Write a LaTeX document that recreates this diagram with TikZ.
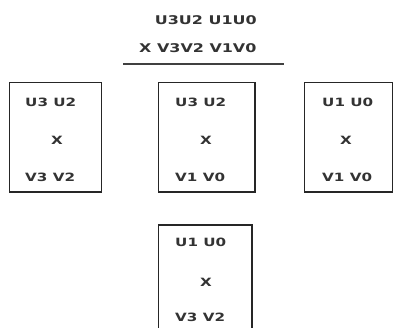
\documentclass[tikz,border=0pt]{standalone}
\usepackage{fontspec}
\setmainfont{DejaVu Sans}
\usepackage{graphicx}
\newcommand\sx[1]{\scalebox{1.33}[1]{#1}}
\begin{document}
\begin{tikzpicture}[x=1pt,y=-1pt,
  box/.style={draw=black!85, line width=1.2pt, inner sep=0pt, outer sep=0pt, minimum width=92pt, minimum height=109.5pt, anchor=north west},
  lbl/.style={inner sep=0pt, text=black!80, font=\fontsize{11.4}{13}\selectfont\bfseries},
  ttl/.style={inner sep=0pt, text=black!80, font=\fontsize{12}{14}\selectfont\bfseries},
  rule/.style={draw=black!75, line width=1.2pt}
  ]
\clip (0,0) rectangle (395,328);
% title
\node[ttl] (h1) at (205.8,20) {\sx{U3U2 U1U0}};
\node[ttl] (h2) at (197.8,48) {\sx{X V3V2 V1V0}};
\coordinate (r1) at (123,64);
\coordinate (r2) at (284,64);
\draw[rule] (r1) -- (r2);
% boxes
\node[box] (b1) at (9.7,82.5) {};
\node[box, minimum width=96.7pt] (b2) at (158.3,82.5) {};
\node[box, minimum width=88.2pt] (b3) at (304.3,82.5) {};
\node[box, minimum width=93.7pt, minimum height=115pt] (b4) at (158.3,225) {};
% box 1
\node[lbl, anchor=west] (b1u) at (25,102) {\sx{U3 U2}};
\node[lbl] (b1x) at (57,140) {\sx{X}};
\node[lbl, anchor=west] (b1v) at (25,177) {\sx{V3 V2}};
% box 2
\node[lbl, anchor=west] (b2u) at (175,102) {\sx{U3 U2}};
\node[lbl] (b2x) at (206,140) {\sx{X}};
\node[lbl, anchor=west] (b2v) at (175,177) {\sx{V1 V0}};
% box 3
\node[lbl, anchor=west] (b3u) at (322,102) {\sx{U1 U0}};
\node[lbl] (b3x) at (346,140) {\sx{X}};
\node[lbl, anchor=west] (b3v) at (322,177) {\sx{V1 V0}};
% box 4
\node[lbl, anchor=west] (b4u) at (175,242) {\sx{U1 U0}};
\node[lbl] (b4x) at (206,282) {\sx{X}};
\node[lbl, anchor=west] (b4v) at (175,317) {\sx{V3 V2}};
\end{tikzpicture}
\end{document}
